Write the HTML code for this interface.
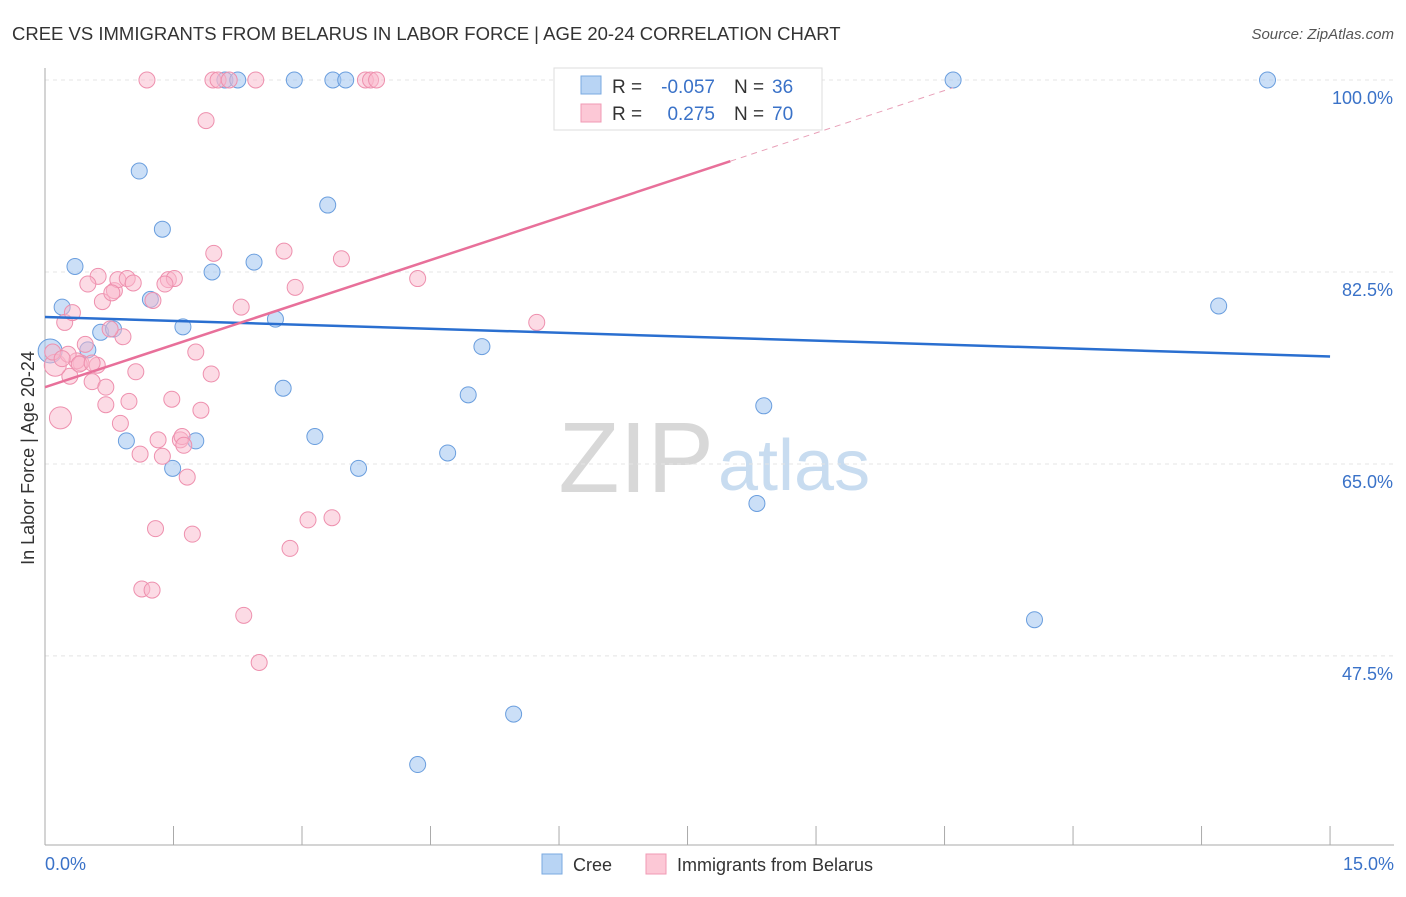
<!DOCTYPE html>
<html><head><meta charset="utf-8"><style>
body{margin:0;background:#fff;font-family:"Liberation Sans",sans-serif}
svg text{font-family:"Liberation Sans",sans-serif}
</style></head><body>
<svg id="c" width="1406" height="892">
<text x="12" y="40" font-size="18.5" fill="#333">CREE VS IMMIGRANTS FROM BELARUS IN LABOR FORCE | AGE 20-24 CORRELATION CHART</text>
<text x="1394" y="39" font-size="15" fill="#555" font-style="italic" text-anchor="end">Source: ZipAtlas.com</text>
<text x="714" y="492" font-size="100" fill="#d8d8d8" text-anchor="end" font-family="Liberation Serif">ZIP</text>
<text x="718" y="490" font-size="72" fill="#c8dcf0">atlas</text>
<g id="grid"></g><g id="axes"></g><g id="pts"></g><g id="trend"></g>
<text transform="translate(34,458) rotate(-90)" font-size="18" fill="#333" text-anchor="middle">In Labor Force | Age 20-24</text>
<text x="45" y="870" font-size="18" fill="#3a72c8">0.0%</text>
<text x="1394" y="870" font-size="18" fill="#3a72c8" text-anchor="end">15.0%</text>
<g>
<rect x="554" y="68" width="268" height="62" fill="#fff" stroke="#ddd"/>
<rect x="581" y="76" width="20" height="18" fill="#b8d4f4" stroke="#7aaae0"/>
<rect x="581" y="104" width="20" height="18" fill="#fcc8d6" stroke="#f09ab4"/>
<text x="612" y="93" font-size="19" fill="#333">R =</text>
<text x="715" y="93" font-size="19" fill="#3a72c8" text-anchor="end">-0.057</text>
<text x="734" y="93" font-size="19" fill="#333">N =</text>
<text x="772" y="93" font-size="19" fill="#3a72c8">36</text>
<text x="612" y="120" font-size="19" fill="#333">R =</text>
<text x="715" y="120" font-size="19" fill="#3a72c8" text-anchor="end">0.275</text>
<text x="734" y="120" font-size="19" fill="#333">N =</text>
<text x="772" y="120" font-size="19" fill="#3a72c8">70</text>
</g>
<g>
<rect x="542" y="854" width="20" height="20" fill="#b8d4f4" stroke="#7aaae0"/>
<text x="573" y="871" font-size="18" fill="#333">Cree</text>
<rect x="646" y="854" width="20" height="20" fill="#fcc8d6" stroke="#f09ab4"/>
<text x="677" y="871" font-size="18" fill="#333">Immigrants from Belarus</text>
</g>
</svg>
<script>
const yTicks=[100,82.5,65,47.5];
const xTicks=[0,1.5,3,4.5,6,7.5,9,10.5,12,13.5,15];
const creeX=[0.2,0.35,0.65,0.8,0.5,0.95,1.1,1.23,1.37,1.61,1.49,1.76,1.95,2.1,2.25,2.44,2.69,2.78,2.91,3.15,3.3,3.36,3.51,3.66,4.35,4.7,4.94,5.1,5.47,8.31,8.39,10.6,11.55,13.7,14.27,0.06];
const creeY=[79.3,83.0,77.0,77.3,75.4,67.1,91.7,80.0,86.4,77.5,64.6,67.1,82.5,100,100,83.4,78.2,71.9,100,67.5,88.6,100,100,64.6,37.6,66.0,71.3,75.7,42.2,61.4,70.3,100,50.8,79.4,100,75.3];
const belX=[1.19,1.96,2.02,2.15,2.46,3.74,3.8,3.87,1.88,1.97,2.79,3.46,4.35,0.62,0.5,0.81,0.85,0.96,1.03,0.67,0.78,1.44,1.51,1.4,1.26,2.29,2.92,5.74,0.23,0.32,0.47,0.42,0.55,0.61,0.29,0.71,0.71,0.91,1.06,0.98,0.88,1.11,1.32,1.37,1.48,1.58,1.6,1.62,1.66,1.82,1.94,1.76,1.29,1.72,1.13,1.25,2.32,2.5,2.86,3.07,3.35,0.18,0.12,0.09,0.37,0.27,0.4,0.76,0.55,0.2];
const belY=[100,100,100,100,100,100,100,100,96.3,84.2,84.4,83.7,81.9,82.1,81.4,80.8,81.8,81.9,81.5,79.8,80.6,81.8,81.9,81.4,79.9,79.3,81.1,77.9,77.9,78.8,75.9,74.2,72.5,74.0,73.0,72.0,70.4,76.6,73.4,70.7,68.7,65.9,67.2,65.7,70.9,67.2,67.5,66.7,63.8,69.9,73.2,75.2,59.1,58.6,53.6,53.5,51.2,46.9,57.3,59.9,60.1,69.2,74.0,75.2,74.4,75.0,74.1,77.3,74.2,74.6];
const ns='http://www.w3.org/2000/svg';
const X=v=>45+v*85.67, Y=v=>80+(100-v)*10.97;
function mk(tag,at,parent){const e=document.createElementNS(ns,tag);for(const k in at)e.setAttribute(k,at[k]);document.getElementById(parent).appendChild(e);return e;}
yTicks.forEach(t=>{const l=mk('line',{x1:45,x2:1394,y1:Y(t),y2:Y(t),stroke:'#e4e4e4','stroke-dasharray':'4,4'},'grid');


const tx=mk('text',{x:1393,y:Y(t)+24,'font-size':18,fill:'#3a72c8','text-anchor':'end'},'grid');tx.textContent=t.toFixed(1)+'%';

});
const ax=mk('line',{x1:45,x2:1394,y1:845,y2:845,stroke:'#aaa'},'axes');


const ay=mk('line',{x1:45,x2:45,y1:68,y2:845,stroke:'#aaa'},'axes');


xTicks.forEach(t=>{const l=mk('line',{x1:X(t),x2:X(t),y1:826,y2:845,stroke:'#aaa'},'axes');

});
creeX.forEach((v,i)=>{const c=mk('circle',{cx:X(v),cy:Y(creeY[i]),r:i==35?12:8,fill:'rgba(160,196,240,0.55)',stroke:'#6a9ede','stroke-width':1},'pts');

});
belX.forEach((v,i)=>{const c=mk('circle',{cx:X(v),cy:Y(belY[i]),r:(i==61||i==62)?11:8,fill:'rgba(250,184,204,0.5)',stroke:'#ee90ae','stroke-width':1},'pts');

});
const tb=mk('line',{x1:X(0),y1:Y(78.4),x2:X(15),y2:Y(74.8),stroke:'#2a6fd0','stroke-width':2.5},'trend');


const tp=mk('line',{x1:X(0),y1:Y(72.0),x2:X(8),y2:Y(92.6),stroke:'#e8709a','stroke-width':2.5},'trend');


const td=mk('line',{x1:X(8),y1:Y(92.6),x2:X(10.6),y2:Y(99.3),stroke:'#e8a0b8','stroke-width':1,'stroke-dasharray':'6,5'},'trend');


</script>
</body></html>
